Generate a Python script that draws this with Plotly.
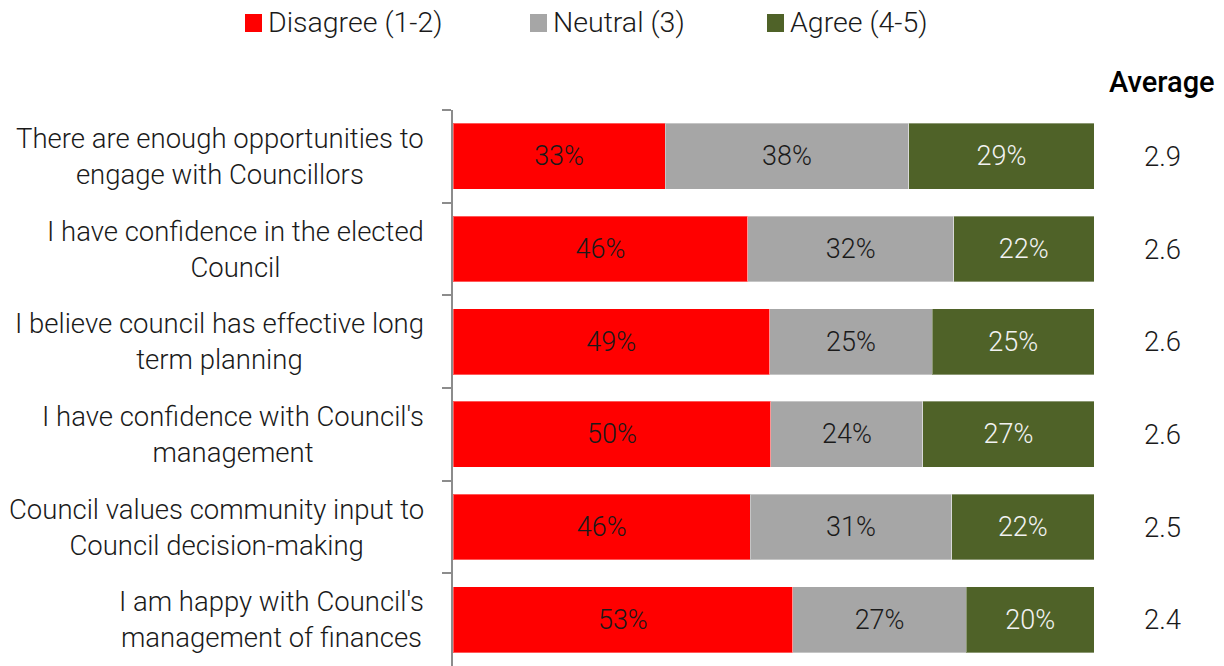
import plotly.graph_objects as go

# Survey statements (top to bottom)
statements = [
    "There are enough opportunities to<br>engage with Councillors",
    "I have confidence in the elected<br>Council",
    "I believe council has effective long<br>term planning",
    "I have confidence with Council's<br>management",
    "Council values community input to<br>Council decision-making",
    "I am happy with Council's<br>management of finances",
]

# Share of responses (%) per rating group
disagree = [33.1, 46.0, 49.4, 49.6, 46.4, 53.0]
neutral = [38.0, 32.1, 25.4, 23.7, 31.4, 27.1]
agree = [28.9, 21.9, 25.2, 26.7, 22.2, 19.9]

# Mean rating on the 1-5 scale
averages = [2.9, 2.6, 2.6, 2.6, 2.5, 2.4]

series_names = ["Disagree (1-2)", "Neutral (3)", "Agree (4-5)"]
series_colors = ["#FF0000", "#A6A6A6", "#4F6228"]
text_colors = ["#1A1A1A", "#1A1A1A", "#F2F2F2"]

FONT = "Roboto"
W, H = 1224, 666
L, R, T, B = 453, 130, 110, 0
PW, PH = W - L - R, H - T - B


def px_x(p):
    return (p - L) / PW


def px_y(p):
    return 1 - (p - T) / PH


fig = go.Figure()
for name, vals, col, tcol in zip(series_names, [disagree, neutral, agree],
                                 series_colors, text_colors):
    fig.add_trace(go.Bar(
        y=statements, x=vals, name=name, orientation="h",
        marker=dict(color=col, line=dict(color="rgba(255,255,255,0.35)", width=1)),
        texttemplate="%{x:.0f}%", textposition="inside",
        insidetextanchor="middle", textangle=0,
        textfont=dict(family=FONT, size=27, color=tcol, weight=300),
        showlegend=False, hoverinfo="skip",
    ))

annotations = []
# Row labels, centred lines with right edge near the axis
for s in statements:
    annotations.append(dict(
        x=0, xref="paper", y=s, yref="y", text=s, showarrow=False,
        xanchor="right", xshift=-27, align="center",
        font=dict(family=FONT, size=27.5, color="#1A1A1A", weight=300),
    ))

# Average column
for s, a in zip(statements, averages):
    annotations.append(dict(
        x=px_x(1162), xref="paper", y=s, yref="y", text=f"{a:.1f}",
        showarrow=False, xanchor="center",
        font=dict(family=FONT, size=27.5, color="#1A1A1A", weight=300),
    ))
annotations.append(dict(
    x=px_x(1162), xref="paper", y=px_y(82), yref="paper", text="Average",
    showarrow=False, xanchor="center", yanchor="middle",
    font=dict(family=FONT, size=29, color="#000000", weight=500),
))

# Legend drawn as swatches with labels
shapes = []
legend_x = [245, 530, 767]
for lx, name, col in zip(legend_x, series_names, series_colors):
    shapes.append(dict(
        type="rect", xref="paper", yref="paper",
        x0=px_x(lx), x1=px_x(lx + 17), y0=px_y(32), y1=px_y(14),
        fillcolor=col, line=dict(width=0),
    ))
    annotations.append(dict(
        x=px_x(lx + 21), xref="paper", y=px_y(22), yref="paper", text=name,
        showarrow=False, xanchor="left", yanchor="middle",
        font=dict(family=FONT, size=28.5, color="#1A1A1A", weight=300),
    ))

fig.update_layout(
    barmode="stack", bargap=0.29,
    width=W, height=H,
    margin=dict(l=L, r=R, t=T, b=B, pad=0),
    plot_bgcolor="white", paper_bgcolor="white",
    xaxis=dict(range=[0, 100], visible=False, fixedrange=True),
    yaxis=dict(
        autorange="reversed", showticklabels=False,
        showline=True, linecolor="#8C8C8C", linewidth=2,
        ticks="outside", tickson="boundaries", ticklen=9,
        tickcolor="#8C8C8C", tickwidth=2, showgrid=False, zeroline=False,
    ),
    annotations=annotations, shapes=shapes,
)

fig.write_html("out.html")
